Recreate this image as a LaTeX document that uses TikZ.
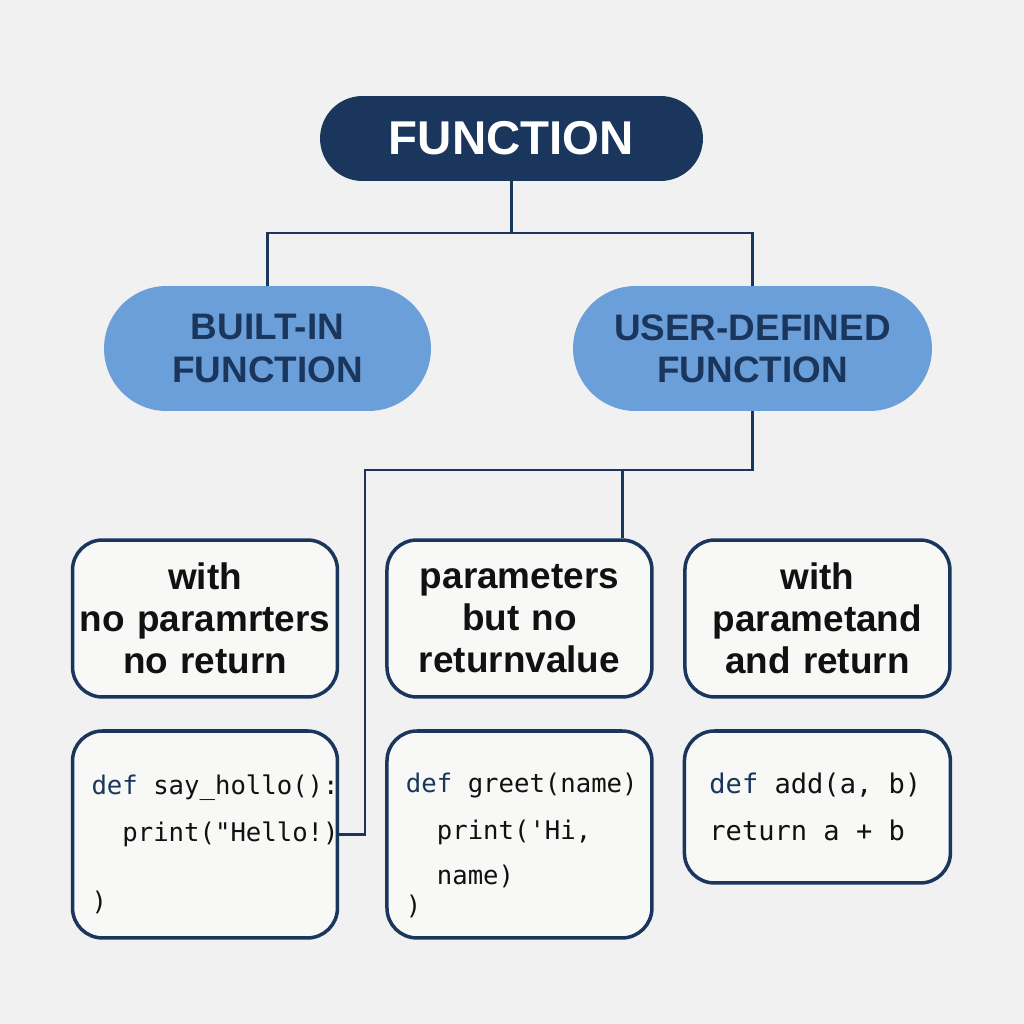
\documentclass[tikz,border=0pt]{standalone}
\usepackage{fontspec}
\setmainfont{Liberation Sans}
\setmonofont{DejaVu Sans Mono}
\usetikzlibrary{positioning,calc}
\definecolor{navy}{HTML}{1B365D}
\definecolor{pillblue}{HTML}{6B9FD9}
\definecolor{boxfill}{HTML}{F8F8F7}
\definecolor{bgray}{HTML}{F1F1F1}
\definecolor{ink}{HTML}{111111}
\newcommand{\kw}[1]{\textcolor{navy}{#1}}
\newcommand{\ind}{\phantom{de}}
\newcommand{\gap}{\phantom{x}}

\begin{document}
\begin{tikzpicture}
   [x=0.02cm, y=-0.02cm,
    link/.style={draw=navy, line width=1.7pt},
    topbox/.style={fill=navy, rounded corners=0.85cm, minimum width=7.66cm, minimum height=1.7cm,
      text=white, font=\fontsize{27}{30}\selectfont\bfseries},
    kindbox/.style={fill=pillblue, rounded corners=1.25cm, minimum height=2.5cm, align=center,
      text=navy, font=\fontsize{21}{24}\selectfont\bfseries},
    casebox/.style={draw=navy, line width=2pt, fill=boxfill, rounded corners=0.6cm,
      minimum width=5.3cm, minimum height=3.14cm, text width=5.1cm, inner xsep=0pt, align=center,
      text=ink, font=\fontsize{21}{24}\selectfont\bfseries},
    codebox/.style={draw=navy, line width=2pt, fill=boxfill, rounded corners=0.6cm,
      text width=4.54cm, inner xsep=0.38cm, align=left,
      text=ink, font=\ttfamily\fontsize{14.6}{27}\selectfont}]
   % background
   \fill[bgray] (0,0) rectangle (1024,1024);
   % top levels
   \node[topbox] (fn) at (511.5,138.5) {FUNCTION};
   \node[kindbox, minimum width=6.54cm] (bi) at (267.5,348.5) {BUILT-IN\\FUNCTION};
   \node[kindbox, minimum width=7.18cm] (ud) at (752.5,348.5) {USER-DEFINED\\FUNCTION};
   % kinds of user functions
   \node[casebox] (t1) at (205,618.5) {with\\no paramrters\\no return};
   \node[casebox, right=0.92cm of t1] (t2) {parameters\\but no\\returnvalue};
   \node[casebox, right=0.59cm of t2] (t3) {with\\parametand\\and return};
   % code samples
   \node[codebox, minimum height=4.14cm, below=0.61cm of t1] (c1)
      {\rule{0pt}{22pt}\mbox{\kw{def}\gap say\_hollo():}\\\mbox{\ind print("Hello!)}\\[12pt])};
   \node[codebox, minimum height=4.14cm, below=0.61cm of t2] (c2)
      {\rule{0pt}{23.5pt}\mbox{\kw{def}\gap greet(name)}\\\mbox{\ind print('Hi,}\\[-1.5pt]\ind name)\\[-10pt])};
   \node[codebox, minimum height=3.04cm, text width=4.32cm, inner xsep=0.5cm,
      font=\ttfamily\fontsize{15.4}{27}\selectfont,
      below=0.61cm of t3] (c3) {\mbox{\kw{def}\gap add(a,\gap b)}\\\mbox{return\gap a\gap +\gap b}};
   % connectors
   \coordinate (topbus) at (511.5,233);
   \coordinate (midbus) at (365,470);
   \coordinate (drop) at (622,470);
   \draw[link] (fn.south) -- (topbus);
   \draw[link] (bi.north) |- (topbus) -| (ud.north);
   \draw[link] (ud.south) |- (midbus) |- (c1.east);
   \draw[link] (drop) -- (drop |- t2.north);
\end{tikzpicture}
\end{document}
